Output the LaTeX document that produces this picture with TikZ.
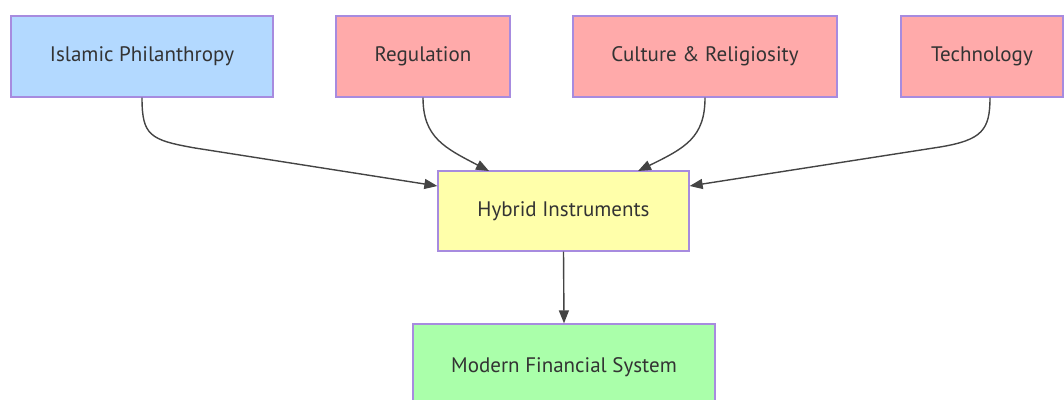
\documentclass[tikz,border=0pt]{standalone}
\usepackage{fontspec}
\setmainfont{PT Sans}
\usetikzlibrary{arrows.meta}
\definecolor{bluefill}{HTML}{B3D9FF}
\definecolor{redfill}{HTML}{FFAAAA}
\definecolor{yellowfill}{HTML}{FFFFAA}
\definecolor{greenfill}{HTML}{AAFFAA}
\definecolor{boxborder}{HTML}{A78BDF}
\definecolor{txt}{HTML}{333333}
\definecolor{edge}{HTML}{444444}
\tikzset{
  x=1pt, y=-1pt,
  box/.style={draw=boxborder, line width=1.3pt, rectangle, minimum height=81pt,
    inner sep=0pt, text=txt, font=\fontsize{21}{25}\selectfont},
  link/.style={draw=edge, line width=1.4pt, -{Triangle[length=13pt,width=10pt]}},
}
\begin{document}
\begin{tikzpicture}
\useasboundingbox (0,0) rectangle (1064,399);
\clip (0,0) rectangle (1064,399);
\node[box, fill=bluefill, minimum width=262pt] (ip) at (142,56.5) {Islamic Philanthropy};
\node[box, fill=redfill, minimum width=174pt] (reg) at (423,56.5) {Regulation};
\node[box, fill=redfill, minimum width=264pt] (cul) at (705,56.5) {Culture \& Religiosity};
\node[box, fill=redfill, minimum width=162pt] (tech) at (982,56.5) {Technology};
\node[box, fill=yellowfill, minimum width=251pt, minimum height=80pt] (hyb) at (563.5,211) {Hybrid Instruments};
\node[box, fill=greenfill, minimum width=302pt, minimum height=86pt] (mod) at (564,367) {Modern Financial System};
\coordinate (ipe) at (hyb.west |- 0,186);
\coordinate (rege) at (489,171);
\coordinate (cule) at (638,171);
\coordinate (teche) at (hyb.east |- 0,186);
\draw[link] (ip.south) .. controls +(0,38) and (150,140) .. (195,148) -- (ipe);
\draw[link] (reg.south) .. controls +(0,40) and (445,148) .. (rege);
\draw[link] (cul.south) .. controls +(0,40) and (685,148) .. (cule);
\draw[link] (tech.south-|990,0) .. controls (990,130) and (982,140) .. (940,147) -- (teche);
\draw[link] (hyb.south) -- (mod.north);
\end{tikzpicture}
\end{document}
